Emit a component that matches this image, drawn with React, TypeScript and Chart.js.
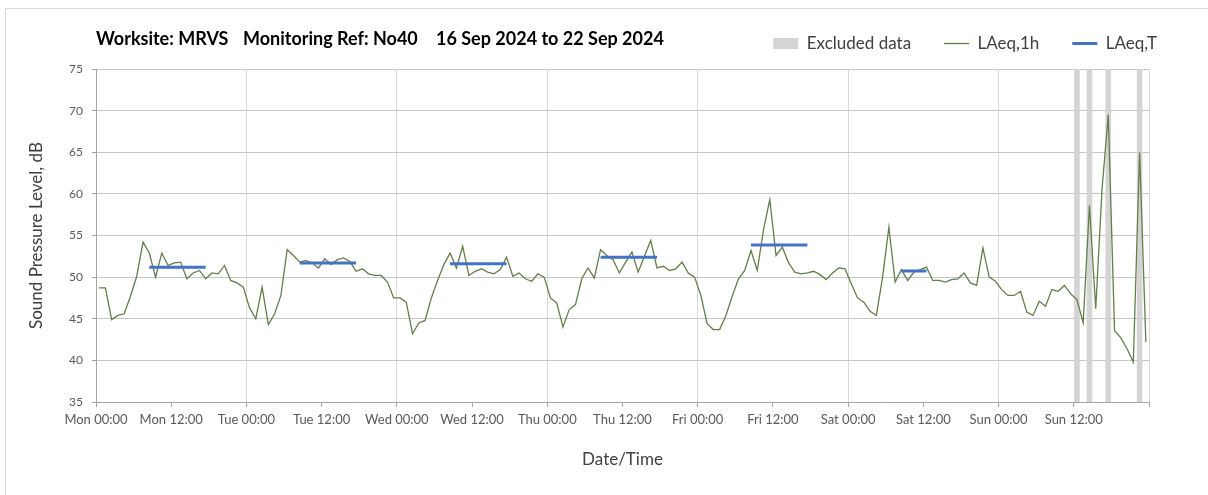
import React, { useEffect, useRef } from 'react';
import { Chart, registerables, layouts } from 'chart.js';

Chart.register(...registerables);

// ---- Data ----
const tickLabels = [
  'Mon 00:00', 'Mon 12:00', 'Tue 00:00', 'Tue 12:00', 'Wed 00:00', 'Wed 12:00',
  'Thu 00:00', 'Thu 12:00', 'Fri 00:00', 'Fri 12:00', 'Sat 00:00', 'Sat 12:00',
  'Sun 00:00', 'Sun 12:00',
];

// LAeq,1h hourly values (dB), one array per day, hour 00..23
const laeq1hMon = [48.7, 48.7, 44.9, 45.4, 45.6, 47.7, 50.1, 54.2, 52.9, 50.0, 52.9, 51.4, 51.7, 51.8, 49.8, 50.5, 50.8, 49.8, 50.5, 50.4, 51.4, 49.6, 49.3, 48.8];
const laeq1hTue = [46.3, 45.0, 48.8, 44.3, 45.6, 47.8, 53.3, 52.6, 51.8, 52.0, 51.7, 51.1, 52.2, 51.5, 52.1, 52.3, 51.9, 50.7, 51.0, 50.4, 50.2, 50.2, 49.4, 47.5];
const laeq1hWed = [47.5, 47.0, 43.2, 44.5, 44.8, 47.5, 49.6, 51.5, 52.9, 51.1, 53.7, 50.2, 50.7, 51.0, 50.6, 50.4, 50.9, 52.4, 50.1, 50.5, 49.8, 49.5, 50.4, 50.0];
const laeq1hThu = [47.5, 46.9, 44.0, 46.1, 46.7, 49.8, 51.1, 49.9, 53.3, 52.6, 52.1, 50.5, 51.8, 53.0, 50.6, 52.5, 54.4, 51.1, 51.3, 50.8, 51.0, 51.8, 50.5, 50.0];
const laeq1hFri = [47.8, 44.4, 43.7, 43.7, 45.4, 47.7, 49.8, 50.8, 53.2, 50.8, 55.7, 59.3, 52.6, 53.6, 51.7, 50.6, 50.4, 50.5, 50.7, 50.3, 49.7, 50.5, 51.1, 51.0];
const laeq1hSat = [49.2, 47.5, 47.0, 45.9, 45.4, 50.0, 56.0, 49.4, 50.9, 49.6, 50.6, 50.9, 51.2, 49.6, 49.6, 49.4, 49.7, 49.8, 50.5, 49.3, 49.0, 53.5, 50.0, 49.5];
const laeq1hSun = [48.5, 47.8, 47.8, 48.3, 45.8, 45.4, 47.1, 46.5, 48.5, 48.3, 49.0, 48.0, 47.3, 44.5, 58.6, 46.2, 60.5, 69.5, 43.6, 42.7, 41.4, 39.8, 65.0, 42.2];

// LAeq,T daytime periods (hour of week, first and last hourly sample) and levels
const laeqTStartHour = [8, 32, 56, 80, 104, 128];
const laeqTEndHour = [17, 41, 65, 89, 113, 132];
const laeqTValues = [51.2, 51.7, 51.6, 52.4, 53.85, 50.75];

// Excluded hours (hour of week)
const excludedHours = [156, 158, 161, 166];

const yMin = 35;
const yMax = 75;
const yStep = 5;
const weekHours = 168;
const tickStepHours = 12;
const gridStepHours = 24;

// ---- Derived datasets ----
const laeq1hAll = [
  ...laeq1hMon, ...laeq1hTue, ...laeq1hWed, ...laeq1hThu, ...laeq1hFri, ...laeq1hSat, ...laeq1hSun,
];
const laeq1hPoints = laeq1hAll.map((v, i) => ({ x: i + 0.5, y: v }));

const laeqTPoints: { x: number; y: number | null }[] = [];
laeqTValues.forEach((v, k) => {
  laeqTPoints.push({ x: laeqTStartHour[k] + 0.5, y: v });
  laeqTPoints.push({ x: laeqTEndHour[k] + 0.5, y: v });
  laeqTPoints.push({ x: laeqTEndHour[k] + 1, y: null });
});

const excludedPoints = excludedHours.map((h) => ({ x: h + 0.5, y: yMax }));

function makeSpacer(id: string, position: string, size: number) {
  return {
    id,
    beforeInit(chart: any) {
      const box: any = {
        position,
        weight: 0,
        fullSize: false,
        options: {},
        top: 0, left: 0, right: 0, bottom: 0, width: 0, height: 0,
        isHorizontal() {
          return position === 'top' || position === 'bottom';
        },
        update(maxWidth: number, maxHeight: number) {
          if (box.isHorizontal()) {
            box.width = maxWidth;
            box.height = size;
          } else {
            box.width = size;
            box.height = maxHeight;
          }
        },
        draw() {},
      };
      layouts.addBox(chart, box);
    },
  };
}

const FONT = 'Lato';

export default function App() {
  const canvasRef = useRef<HTMLCanvasElement>(null);

  useEffect(() => {
    const canvas = canvasRef.current;
    if (!canvas) return;
    const chart = new Chart(canvas, {
      type: 'line',
      data: {
        datasets: [
          {
            type: 'line',
            label: 'LAeq,T',
            data: laeqTPoints as any,
            borderColor: '#4472c4',
            backgroundColor: '#4472c4',
            borderWidth: 3,
            pointBorderWidth: 3,
            pointRadius: 0,
            pointHoverRadius: 0,
            pointStyle: 'line',
            borderCapStyle: 'butt',
            spanGaps: false,
            tension: 0,
            order: 1,
          },
          {
            type: 'line',
            label: 'LAeq,1h',
            data: laeq1hPoints as any,
            borderColor: '#647e4a',
            backgroundColor: '#647e4a',
            borderWidth: 1.3,
            pointBorderWidth: 1.3,
            pointRadius: 0,
            pointHoverRadius: 0,
            pointStyle: 'line',
            tension: 0,
            order: 2,
          },
          {
            type: 'bar',
            label: 'Excluded data',
            data: excludedPoints as any,
            backgroundColor: '#d4d4d4',
            borderWidth: 0,
            pointStyle: 'rect',
            barPercentage: 0.9,
            categoryPercentage: 0.5,
            order: 3,
          } as any,
        ],
      },
      options: {
        responsive: false,
        animation: false,
        events: [],
        layout: { padding: { top: 2, right: 18, left: 0, bottom: 0 } },
        plugins: {
          legend: {
            display: true,
            position: 'top',
            align: 'end',
            reverse: true,
            labels: {
              usePointStyle: true,
              pointStyleWidth: 25,
              boxHeight: 11,
              padding: 33,
              color: '#404040',
              font: { family: FONT, size: 17 },
            },
          },
          tooltip: { enabled: false },
          title: { display: false },
        },
        scales: {
          x: {
            type: 'linear',
            min: 0,
            max: weekHours,
            offset: false,
            afterFit: (scale: any) => {
              scale.height = 93;
            },
            ticks: {
              stepSize: tickStepHours,
              autoSkip: false,
              maxRotation: 0,
              minRotation: 0,
              padding: 5,
              color: '#595959',
              font: { family: FONT, size: 13 },
              callback: (value: any) => tickLabels[Math.round(Number(value) / tickStepHours)] ?? '',
            },
            grid: {
              offset: false,
              color: (ctx: any) =>
                ctx.tick && ctx.tick.value % gridStepHours === 0 ? '#d9d9d9' : 'rgba(0,0,0,0)',
              tickColor: '#a6a6a6',
              tickLength: 5,
              lineWidth: 1,
            },
            border: { display: true, color: '#a6a6a6', width: 1 },
            title: {
              display: true,
              text: 'Date/Time',
              color: '#404040',
              font: { family: FONT, size: 17 },
              padding: { top: 0, bottom: 25 },
            },
          },
          y: {
            type: 'linear',
            min: yMin,
            max: yMax,
            afterFit: (scale: any) => {
              scale.width = 96;
            },
            ticks: {
              stepSize: yStep,
              padding: 9,
              color: '#595959',
              font: { family: FONT, size: 12 },
            },
            grid: {
              color: '#c6c6c6',
              tickColor: '#a6a6a6',
              tickLength: 4,
              lineWidth: 1,
            },
            border: { display: true, color: '#a6a6a6', width: 1 },
            title: {
              display: true,
              text: 'Sound Pressure Level, dB',
              color: '#404040',
              font: { family: FONT, size: 17 },
              padding: { top: 26, bottom: 0 },
            },
          },
        },
      } as any,
      plugins: [makeSpacer('topSpacer', 'top', 7), makeSpacer('rightSpacer', 'right', 41)] as any,
    });
    return () => chart.destroy();
  }, []);

  const titleStyle: React.CSSProperties = {
    position: 'absolute',
    top: 28,
    font: `bold 18px ${FONT}`,
    lineHeight: '20px',
    color: '#000',
    whiteSpace: 'pre',
  };

  return (
    <div style={{ position: 'absolute', left: 0, top: 0, width: 1208, height: 495, overflow: 'hidden', background: '#fff' }}>
      <div
        style={{
          position: 'absolute', left: 5, top: 8, width: 1220, height: 520,
          borderLeft: '1px solid #d9d9d9', borderTop: '1px solid #d9d9d9',
        }}
      />
      <canvas
        ref={canvasRef}
        width={1208}
        height={495}
        style={{ position: 'absolute', left: 0, top: 0, width: 1208, height: 495 }}
      />
      <div style={{ ...titleStyle, left: 96 }}>Worksite: MRVS</div>
      <div style={{ ...titleStyle, left: 243 }}>Monitoring Ref: No40</div>
      <div style={{ ...titleStyle, left: 436 }}>16 Sep 2024 to 22 Sep 2024</div>
    </div>
  );
}
